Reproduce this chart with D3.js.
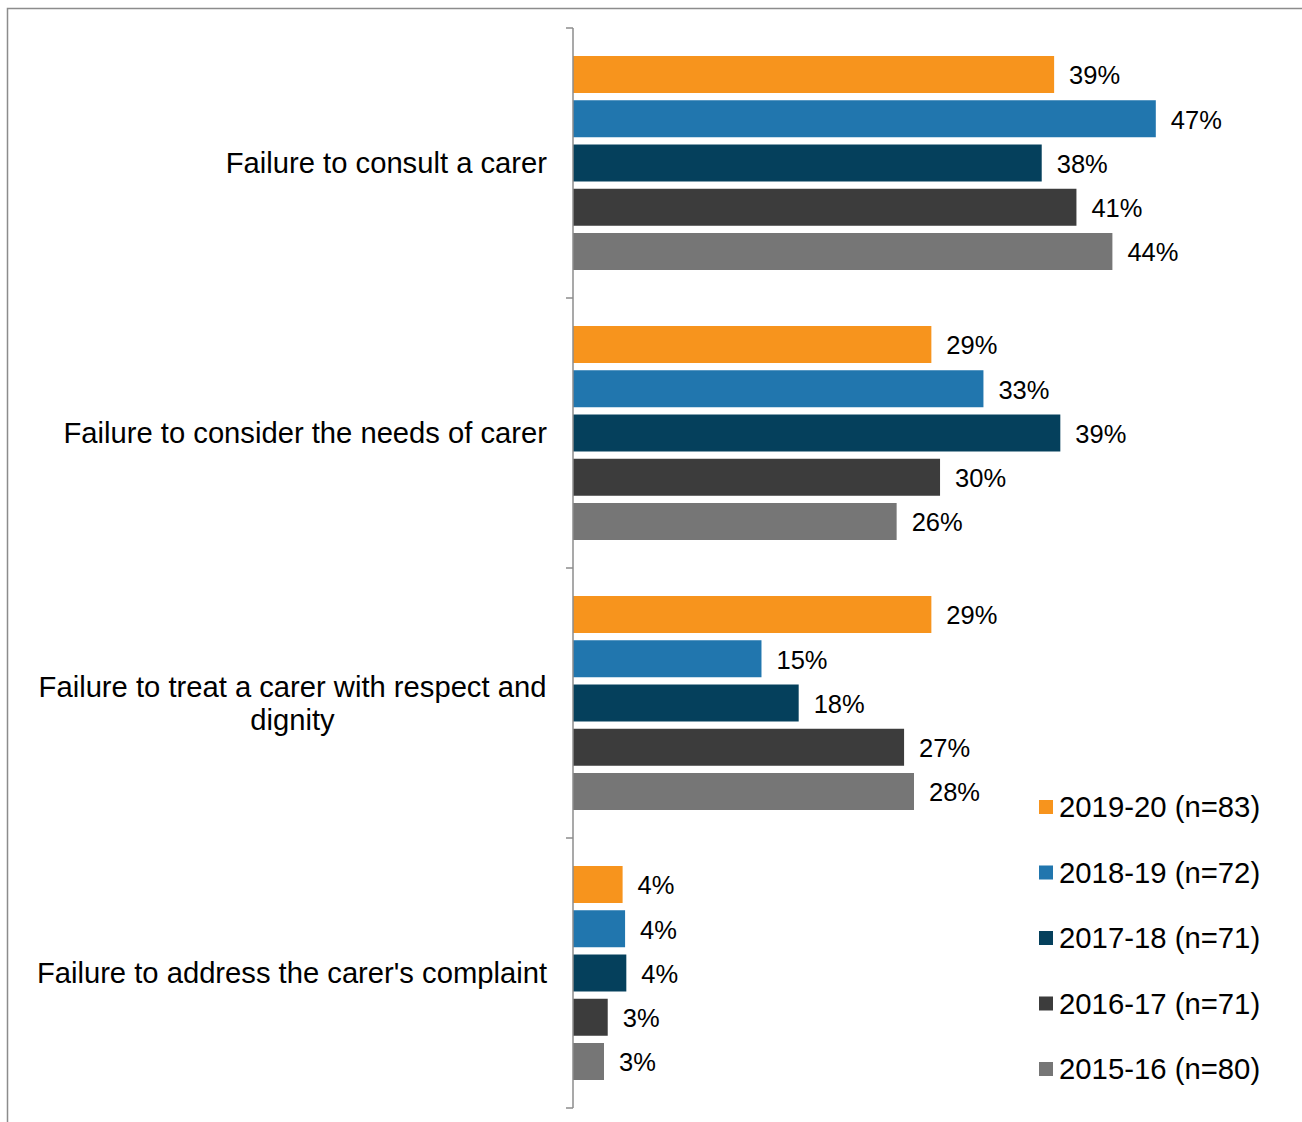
<!DOCTYPE html>
<html>
<head>
<meta charset="utf-8">
<script src="https://cdn.jsdelivr.net/npm/d3@7"></script>
<style>
    body { margin: 0; background: #fff; }
    svg { display: block; font-family: "Liberation Sans", Arial, sans-serif; }
</style>
</head>
<body>
<div id="chart"></div>
<script>
// categories, top to bottom
const categories = [
    ["Failure to consult a carer"],
    ["Failure to consider the needs of carer"],
    ["Failure to treat a carer with respect and", "dignity"],
    ["Failure to address the carer's complaint"]
]
const seriesNames = ["2019-20 (n=83)", "2018-19 (n=72)", "2017-18 (n=71)", "2016-17 (n=71)", "2015-16 (n=80)"]
const seriesColors = ["#f7941d", "#2176ae", "#05405c", "#3c3c3c", "#767676"]

// percent values per series, one entry per category
const v2019 = [38.8, 28.9, 28.9, 4.0]
const v2018 = [47.0, 33.1, 15.2, 4.2]
const v2017 = [37.8, 39.3, 18.2, 4.3]
const v2016 = [40.6, 29.6, 26.7, 2.8]
const v2015 = [43.5, 26.1, 27.5, 2.5]
const seriesValues = [v2019, v2018, v2017, v2016, v2015]

const width = 1302, height = 1122
const svg = d3.select("#chart").append("svg")
    .attr("width", width)
    .attr("height", height)

// outer frame
svg.append("rect")
    .attr("x", 7.5).attr("y", 8.5)
    .attr("width", width).attr("height", height)
    .attr("fill", "none")
    .attr("stroke", "#8c8c8c")
    .attr("stroke-width", 1.5)

const x0 = 573
const x = d3.scaleLinear().domain([0, 50]).range([x0, x0 + 620])
const y = d3.scaleBand().domain(d3.range(categories.length)).range([28, 1108])
const yInner = d3.scaleBand().domain(d3.range(seriesNames.length))
    .range([28, y.bandwidth() - 28])
    .paddingInner(0.164)

const groups = svg.selectAll("g.cat")
    .data(categories)
    .join("g")
    .attr("class", "cat")
    .attr("transform", (d, i) => `translate(0,${y(i)})`)

groups.each(function(cat, ci) {
    const g = d3.select(this)
    const rows = seriesValues.map((vals, si) => ({ si, v: vals[ci] }))
    g.selectAll("rect")
        .data(rows)
        .join("rect")
        .attr("x", x(0))
        .attr("y", d => yInner(d.si))
        .attr("width", d => x(d.v) - x(0))
        .attr("height", yInner.bandwidth())
        .attr("fill", d => seriesColors[d.si])
    g.selectAll("text.val")
        .data(rows)
        .join("text")
        .attr("class", "val")
        .attr("x", d => x(d.v) + 15)
        .attr("y", d => yInner(d.si) + yInner.bandwidth() / 2 + 1)
        .attr("dy", "0.35em")
        .attr("font-size", 25.5)
        .attr("fill", "#000")
        .text(d => Math.round(d.v) + "%")
})

// category axis
const axis = svg.append("g")
    .attr("transform", `translate(${x0},0)`)
    .call(d3.axisLeft(y).tickSize(0).tickFormat(""))
axis.select(".domain").remove()
axis.append("line")
    .attr("y1", 28).attr("y2", 1108)
    .attr("stroke", "#8c8c8c").attr("stroke-width", 1.5)
axis.selectAll("line.tk")
    .data(d3.range(categories.length + 1))
    .join("line")
    .attr("class", "tk")
    .attr("x1", -7).attr("x2", 0)
    .attr("y1", i => 28 + i * y.step())
    .attr("y2", i => 28 + i * y.step())
    .attr("stroke", "#8c8c8c").attr("stroke-width", 1.5)

// category labels
svg.selectAll("text.cat")
    .data(categories)
    .join("text")
    .attr("class", "cat")
    .attr("font-size", 29.2)
    .attr("fill", "#000")
    .each(function(lines, i) {
        const t = d3.select(this)
        const cy = y(i) + y.bandwidth() / 2
        const lh = 33
        const top = cy - (lines.length - 1) * lh / 2
        lines.forEach((ln, li) => {
            t.append("tspan")
                .attr("x", lines.length > 1 ? 292.5 : 547)
                .attr("text-anchor", lines.length > 1 ? "middle" : "end")
                .attr("y", top + li * lh)
                .attr("dy", "0.35em")
                .text(ln)
        })
    })

// legend
const legend = svg.append("g").attr("transform", "translate(1039,807)")
const items = legend.selectAll("g")
    .data(seriesNames)
    .join("g")
    .attr("transform", (d, i) => `translate(0,${i * 65.5})`)
items.append("rect")
    .attr("x", 0).attr("y", -7)
    .attr("width", 14).attr("height", 14)
    .attr("fill", (d, i) => seriesColors[i])
items.append("text")
    .attr("x", 20)
    .attr("dy", "0.35em")
    .attr("font-size", 29.3)
    .attr("fill", "#000")
    .text(d => d)
</script>
</body>
</html>
